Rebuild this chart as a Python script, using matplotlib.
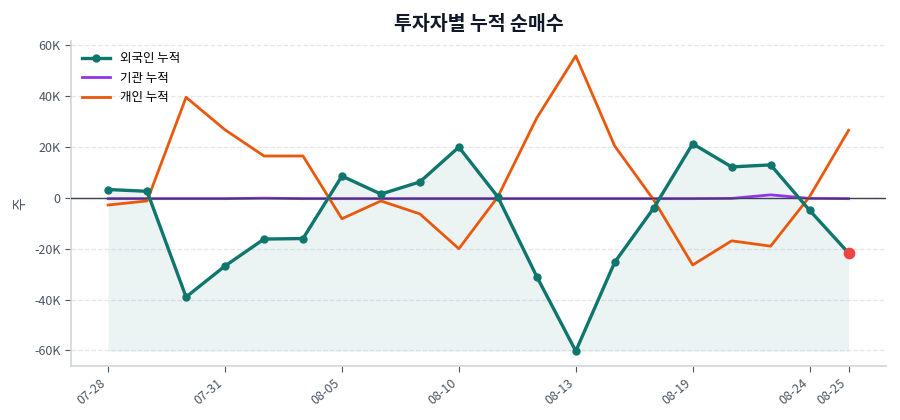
import matplotlib
matplotlib.use("Agg")
import matplotlib.pyplot as plt
from matplotlib.ticker import FuncFormatter
import numpy as np

plt.rcParams['font.family'] = ['Noto Sans CJK KR', 'DejaVu Sans']
plt.rcParams['axes.unicode_minus'] = False

dates = ["07-28", "07-29", "07-30", "07-31", "08-01", "08-04", "08-05", "08-06",
         "08-07", "08-10", "08-11", "08-12", "08-13", "08-14", "08-18", "08-19",
         "08-20", "08-21", "08-24", "08-25"]
foreign = [3.3, 2.6, -39.0, -26.8, -16.2, -16.0, 8.6, 1.5, 6.3, 20.0,
           0.4, -31.0, -60.3, -25.3, -4.0, 21.3, 12.2, 13.0, -4.9, -21.7]
institution = [-0.3, -0.3, -0.3, -0.3, -0.1, -0.3, -0.3, -0.3, -0.3, -0.3,
               -0.3, -0.3, -0.3, -0.3, -0.3, -0.3, -0.2, 1.2, -0.2, -0.3]
individual = [-2.8, -1.2, 39.6, 26.8, 16.5, 16.5, -8.2, -1.2, -6.3, -20.0,
              0.4, 31.5, 55.9, 20.4, -0.8, -26.4, -16.9, -19.0, 0.5, 26.6]
tick_idx = [0, 3, 6, 9, 12, 15, 18, 19]

x = np.arange(len(dates))
fr = np.array(foreign) * 1000
ins = np.array(institution) * 1000
ind = np.array(individual) * 1000

fig = plt.figure(figsize=(9, 4.2), dpi=100)
ax = fig.add_axes([0.079, 0.129, 0.905, 0.773])

ax.fill_between(x, fr, fr.min(), color="#0f766e", alpha=0.08, linewidth=0)
ax.plot(x, fr, color="#0f766e", lw=2.4, marker="o", ms=5, label="외국인 누적", zorder=4)
ax.plot(x, ins, color="#9333ea", lw=2, label="기관 누적", zorder=3)
ax.plot(x, ind, color="#ea580c", lw=2, label="개인 누적", zorder=3)
ax.axhline(0, color="#374151", lw=1, zorder=3.5)
ax.scatter([x[-1]], [fr[-1]], s=55, color="#ef4444", zorder=5)

ax.set_xticks(tick_idx)
ax.set_xticklabels([dates[i] for i in tick_idx], rotation=40, ha="right")
ax.yaxis.set_major_formatter(FuncFormatter(
    lambda v, p: "0" if v == 0 else f"{v/1000:.0f}K"))
ax.set_yticks([-60000, -40000, -20000, 0, 20000, 40000, 60000])
ax.set_ylim(-66100, 61700)
ax.set_xlim(-0.95, 19.95)

ax.tick_params(colors="#4b5563", labelsize=9, length=4)
ax.grid(axis="y", linestyle="--", color="#e5e7eb", lw=0.9)
ax.set_axisbelow(True)
for s in ["top", "right"]:
    ax.spines[s].set_visible(False)
for s in ["left", "bottom"]:
    ax.spines[s].set_color("#d1d5db")
    ax.spines[s].set_linewidth(1.2)

ax.set_ylabel("주", color="#4b5563", fontsize=10, labelpad=5)
ax.set_title("투자자별 누적 순매수", fontsize=14, fontweight="bold", color="#111827", pad=8)
ax.legend(loc="upper left", frameon=False, fontsize=9, handlelength=2.2)

fig.savefig("out.png", dpi=100)
